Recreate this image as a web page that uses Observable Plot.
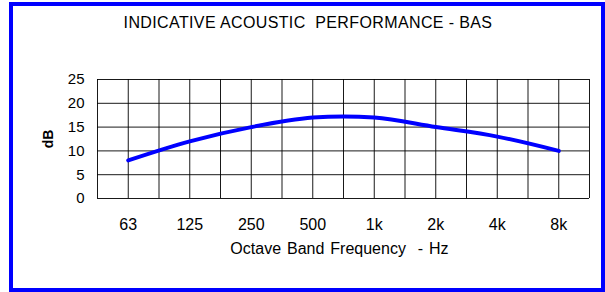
<!DOCTYPE html>
<html>
<head>
<meta charset="utf-8">
<script src="https://cdn.jsdelivr.net/npm/d3@7"></script>
<script src="https://cdn.jsdelivr.net/npm/@observablehq/plot@0.6"></script>
<style>
  html, body { margin: 0; padding: 0; background: #fff; }
  #wrap { position: relative; width: 605px; height: 292px; overflow: hidden; font-family: "Liberation Sans", Arial, sans-serif; }
  #frame { position: absolute; left: 9px; top: 2px; width: 588px; height: 282px; border: 4px solid #0000ff; box-sizing: content-box; }
  #title { position: absolute; left: 0; width: 616px; top: 14px; text-align: center; font-size: 16px; line-height: normal; white-space: pre; letter-spacing: 0.38px; color: #000; }
  #xlabel { position: absolute; left: 0; width: 679px; top: 240px; text-align: center; font-size: 16px; line-height: normal; white-space: pre; word-spacing: 1.5px; color: #000; }
  #ylabel { position: absolute; left: 48px; top: 139px; font-size: 14px; font-weight: bold; transform: translate(-50%, -50%) rotate(-90deg); color: #000; }
  #chart { position: absolute; left: 0; top: 0; }
</style>
</head>
<body>
<div id="wrap">
  <div id="chart"></div>
  <div id="frame"></div>
  <div id="title">INDICATIVE ACOUSTIC  PERFORMANCE - BAS</div>
  <div id="xlabel">Octave Band Frequency  - Hz</div>
  <div id="ylabel">dB</div>
</div>
<script>
const categories = ["63", "125", "250", "500", "1k", "2k", "4k", "8k"];
const values = [8, 12, 15, 17, 17, 15, 13, 10];
const yTicks = [0, 5, 10, 15, 20, 25];

const data = categories.map((c, i) => ({i, c, v: values[i]}));
const xGrid = d3.range(-0.5, categories.length, 0.5);

const chart = Plot.plot({
  width: 605,
  height: 292,
  marginLeft: 97,
  marginRight: 16,
  marginTop: 79,
  marginBottom: 94,
  style: {fontFamily: "'Liberation Sans', Arial, sans-serif", fontSize: "15px", background: "transparent", color: "#000"},
  x: {domain: [-0.5, categories.length - 0.5], ticks: d3.range(categories.length), tickFormat: i => categories[i], tickSize: 0, tickPadding: 20, label: null},
  y: {domain: [0, 25], ticks: yTicks, tickSize: 0, tickPadding: 13, label: null},
  marks: [
    Plot.ruleY(yTicks, {stroke: "#000", strokeWidth: 1, strokeOpacity: 0.9}),
    Plot.ruleX(xGrid, {stroke: "#000", strokeWidth: 1, strokeOpacity: 0.9}),
    Plot.line(data, {x: "i", y: "v", stroke: "#0000ff", strokeWidth: 4, curve: "catmull-rom"})
  ]
});
chart.querySelectorAll('[aria-label="x-axis tick label"], [aria-label="x-axis"]').forEach(g => g.setAttribute("font-size", "16"));
document.getElementById("chart").appendChild(chart);
</script>
</body>
</html>
